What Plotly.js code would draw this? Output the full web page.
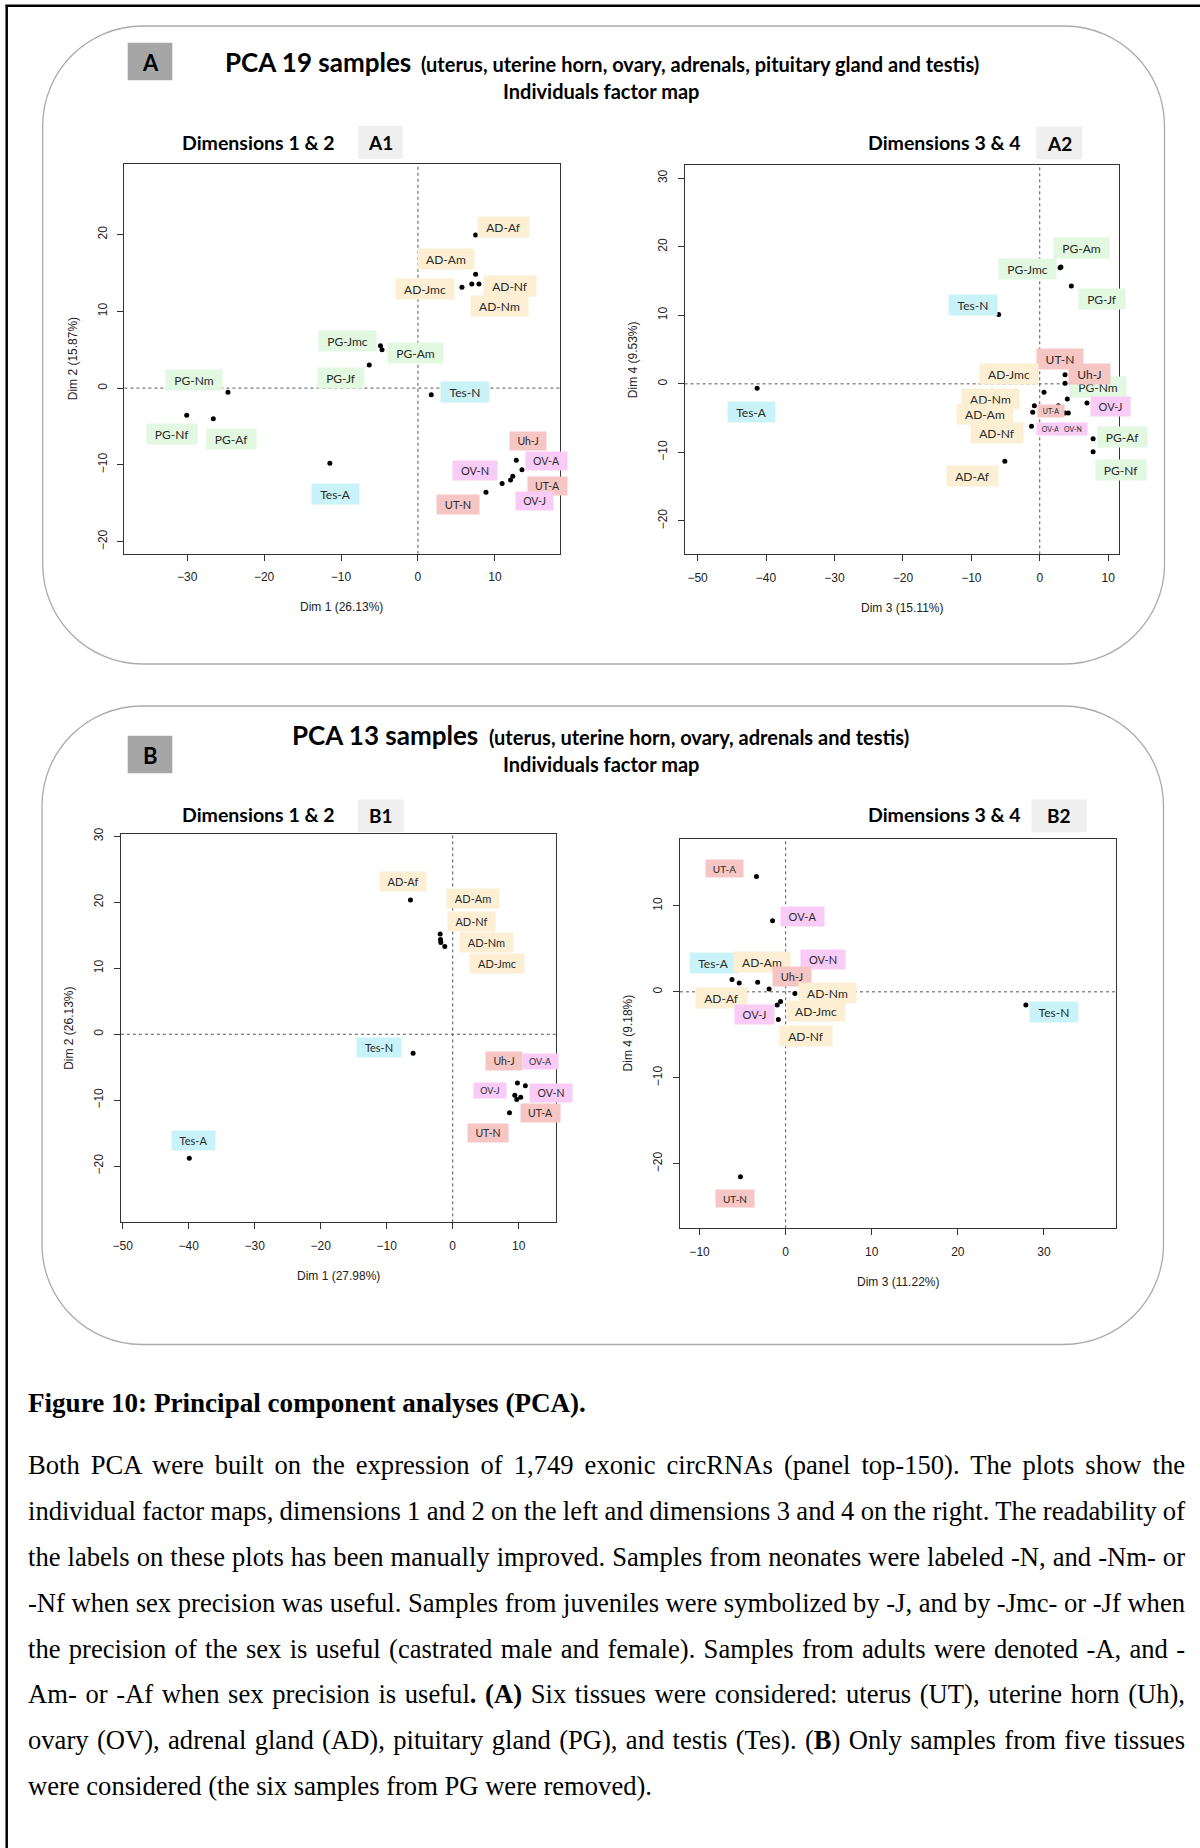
<!DOCTYPE html>
<html>
<head>
<meta charset="utf-8">
<script src="https://cdn.plot.ly/plotly-3.0.1.min.js"></script>
<style>
  body { margin: 0; background: #fff; }
  #wrap { position: relative; width: 1200px; height: 1848px; overflow: hidden; }
  #chart { position: absolute; left: 0; top: 0; width: 1200px; height: 1848px; }
  .cap { position: absolute; left: 28px; font-family: "Liberation Serif", "Times New Roman", serif;
         font-size: 26.6px; line-height: 30px; height: 30px; white-space: nowrap; color: #000; }
</style>
</head>
<body>
<div id="wrap">
  <div id="chart"></div>
</div>
<script>
// ================= DATA =================
// Panel A1 : Dim 1 vs Dim 2 (19 samples)
const A1_names = ['AD-Af','AD-Am','AD-Nf','AD-Nm','AD-Jmc','PG-Jmc','PG-Am','PG-Jf','PG-Nm','PG-Nf','PG-Af','Tes-N','Tes-A','Uh-J','OV-A','UT-A','OV-J','OV-N','UT-N'];
const A1_dim1  = [7.5, 7.5, 7.93, 7.0, 5.72, -4.87, -4.67, -6.33, -24.7, -30.06, -26.6, 1.73, -11.45, 12.78, 13.52, 12.33, 12.03, 10.94, 8.84];
const A1_dim2  = [19.94, 14.82, 13.56, 13.56, 13.12, 5.5, 5.0, 3.01, -0.55, -3.54, -3.99, -0.86, -9.78, -9.39, -10.63, -11.47, -11.98, -12.44, -13.56];

// Panel A2 : Dim 3 vs Dim 4 (19 samples)
const A2_names = ['Tes-A','Tes-N','PG-Jmc','PG-Am','PG-Jf','PG-Nm','UT-N','Uh-J','AD-Jmc','OV-J','AD-Nm','UT-A','AD-Am','OV-A','OV-N','AD-Nf','PG-Af','PG-Nf','AD-Af'];
const A2_dim3  = [-41.3, -6.0, 2.97, 3.1, 4.62, 6.9, 3.7, 3.7, 0.63, 4.03, -0.79, 2.72, -1.02, 3.7, 4.18, -1.2, 7.8, 7.8, -5.1];
const A2_dim4  = [-0.63, 10.1, 16.95, 17.05, 14.28, -2.8, 1.34, 0.08, -1.23, -2.21, -3.19, -3.19, -4.15, -4.25, -4.25, -6.2, -8.0, -9.9, -11.3];

// Panel B1 : Dim 1 vs Dim 2 (13 samples)
const B1_names = ['AD-Af','AD-Am','AD-Nf','AD-Nm','AD-Jmc','Tes-N','Tes-A','Uh-J','OV-A','OV-J','OV-N','UT-A','UT-N'];
const B1_dim1  = [-6.4, -1.9, -1.85, -1.8, -1.2, -6.0, -39.9, 9.8, 11.0, 9.4, 10.3, 9.7, 8.6];
const B1_dim2  = [20.35, 15.2, 14.35, 13.9, 13.3, -2.87, -18.8, -7.4, -7.8, -9.24, -9.55, -9.9, -11.9];

// Panel B2 : Dim 3 vs Dim 4 (13 samples)
const B2_names = ['UT-A','OV-A','OV-N','Tes-A','AD-Af','AD-Am','Uh-J','AD-Nm','AD-Jmc','OV-J','AD-Nf','Tes-N','UT-N'];
const B2_dim3  = [-3.39, -1.52, 0.22, -6.23, -5.39, -3.25, -1.92, 1.07, -0.59, -0.98, -0.85, 27.9, -5.25];
const B2_dim4  = [13.4, 8.27, 3.18, 1.42, 1.03, 1.12, 0.34, -0.2, -1.13, -1.52, -3.23, -1.52, -21.5];

// Tick labels
const A1_xticks = [-30, -20, -10, 0, 10];
const A1_yticks = [-20, -10, 0, 10, 20];
const A2_xticks = [-50, -40, -30, -20, -10, 0, 10];
const A2_yticks = [-20, -10, 0, 10, 20, 30];
const B1_xticks = [-50, -40, -30, -20, -10, 0, 10];
const B1_yticks = [-20, -10, 0, 10, 20, 30];
const B2_xticks = [-10, 0, 10, 20, 30];
const B2_yticks = [-20, -10, 0, 10];

// Text
const titleA = 'PCA 19 samples';
const subA = '(uterus, uterine horn, ovary, adrenals, pituitary gland and testis)';
const titleB = 'PCA 13 samples';
const subB = '(uterus, uterine horn, ovary, adrenals and testis)';
const subtitle2 = 'Individuals factor map';
const captionHead = 'Figure 10: Principal component analyses (PCA).';
const captionLines = [
  'Both PCA were built on the expression of 1,749 exonic circRNAs (panel top-150). The plots show the',
  'individual factor maps, dimensions 1 and 2 on the left and dimensions 3 and 4 on the right. The readability of',
  'the labels on these plots has been manually improved. Samples from neonates were labeled -N, and -Nm- or',
  '-Nf when sex precision was useful. Samples from juveniles were symbolized by -J, and by -Jmc- or -Jf when',
  'the precision of the sex is useful (castrated male and female). Samples from adults were denoted -A, and -',
  'Am- or -Af when sex precision is useful<b>. (A)</b> Six tissues were considered: uterus (UT), uterine horn (Uh),',
  'ovary (OV), adrenal gland (AD), pituitary gland (PG), and testis (Tes). (<b>B</b>) Only samples from five tissues',
  'were considered (the six samples from PG were removed).'
];

// ================= LABEL PLACEMENT (pixel offsets from the point) =================
const A1_lab = { dx:[28,-30,31,28,-37,-33,33,-28,-34,-15,18,34,6,12,25,35,24,-27,-28],
                 dy:[-8,-15,2,22,2,-5,3,13,-12,19,20,-3,31,-19,-9,10,21,-13,12],
                 size:[12,12,12,12,12,12,12,12,12,12,12,12,12,10.5,10.5,10.5,10.5,11,11] };
const A2_lab = { dx:[-6,-26,-33,21,31,11,-5,24,-35,43,-44,-7,-48,-15,5,-35,29,28,-32],
                 dy:[24,-10,1,-19,13,-16,-16,-9,-18,8,-7,5,2,16,16,7,-2,18,15],
                 size:[12,12,12,12,12,12,12,12,12,11,12,7,12,7,7,12,12,12,12] };
const B1_lab = { dx:[-7,33,31,46,52,-34,4,-13,15,-25,30,24,-21],
                 dy:[-19,-36,-18,0,17,-6,-18,-22,-24,-5,-4,13,20],
                 size:[11,11,11,11,11,11,11,10.5,9,9,10.5,10.5,10.5] };
const B2_lab = { dx:[-32,30,35,-19,-18,4,23,33,35,-23,28,28,-5],
                 dy:[-8,-4,-5,-17,15,-20,-12,-1,9,10,16,7,22],
                 size:[10,11,11,12,12,12,11,12,12,11,12,12,10] };

// ================= LAYOUT HELPERS =================
const W = 1200, H = 1848;
const px = x => x / W;
const py = y => 1 - y / H;

// plot boxes in pixels [left, top, right, bottom]
const boxes = {
  A1: [124.4, 163.9, 559.5, 553.8],
  A2: [684.6, 164.8, 1119.3, 554.3],
  B1: [120.9, 833.5, 555.7, 1222.4],
  B2: [680.0, 838.6, 1115.5, 1228.3]
};
const ranges = {
  A1: {x: [-38.16, 18.4], y: [-21.58, 29.2]},
  A2: {x: [-51.9, 11.63], y: [-24.87, 31.96]},
  B1: {x: [-50.26, 15.6], y: [-28.53, 30.44]},
  B2: {x: [-12.27, 38.31], y: [-27.5, 17.82]}
};

const tissueColors = { AD:'#FCEFD4', PG:'#E2F8E0', Tes:'#C9F3F8', UT:'#F6C6C5', Uh:'#F6C6C5', OV:'#F9CBF7' };
const tissueColor = n => tissueColors[n.split('-')[0]];

const cv = document.createElement('canvas').getContext('2d');
function textW(t, size) { cv.font = size + 'px Lato'; return cv.measureText(t).width; }

const axFont = {family: 'Liberation Sans, Arial, sans-serif', size: 12, color: '#222'};
const tickSets = {A1:[A1_xticks, A1_yticks], A2:[A2_xticks, A2_yticks], B1:[B1_xticks, B1_yticks], B2:[B2_xticks, B2_yticks]};

function makeAxes(key, idx) {
  const b = boxes[key], r = ranges[key];
  const xt = tickSets[key][0], yt = tickSets[key][1];
  const sfx = idx === 1 ? '' : String(idx);
  const common = {showgrid:false, zeroline:false, showline:true, mirror:true, linecolor:'#333', linewidth:1,
                  ticks:'outside', ticklen:6, tickcolor:'#333', tickwidth:1, tickfont:axFont,
                  ticklabelstandoff:6, fixedrange:true};
  const fmt = v => v < 0 ? '\u2212' + Math.abs(v) : String(v);
  return {
    ['xaxis' + sfx]: Object.assign({}, common, {domain:[px(b[0]), px(b[2])], range:r.x, tickvals:xt,
                      ticktext: xt.map(fmt), anchor:'y' + sfx}),
    ['yaxis' + sfx]: Object.assign({}, common, {domain:[py(b[3]), py(b[1])], range:r.y, tickvals:yt,
                      ticktext: yt.map(fmt), tickangle:-90, anchor:'x' + sfx})
  };
}

function labelAnns(names, xs, ys, lab, idx) {
  const sfx = idx === 1 ? '' : String(idx);
  return names.map((n, i) => {
    const s = lab.size[i];
    return {x: xs[i], y: ys[i], xref:'x' + sfx, yref:'y' + sfx, text: n, showarrow:false,
            xshift: lab.dx[i], yshift: -lab.dy[i], xanchor:'center', yanchor:'middle',
            bgcolor: tissueColor(n), borderpad:0,
            width: Math.round(textW(n, s) + 1.4 * s), height: Math.round(s * 1.7),
            font:{family:'Lato, sans-serif', size: s, color:'#2a2a2a'}};
  });
}

function zeroShapes(idx) {
  const sfx = idx === 1 ? '' : String(idx);
  const ln = {color:'#555', width:1, dash:'3px,3px'};
  return [
    {type:'line', xref:'x' + sfx, yref:'y' + sfx + ' domain', x0:0, x1:0, y0:0, y1:1, line:ln, layer:'below'},
    {type:'line', xref:'x' + sfx + ' domain', yref:'y' + sfx, x0:0, x1:1, y0:0, y1:0, line:ln, layer:'below'}
  ];
}

function roundRectPath(x0, y0, x1, y1, r) {
  const k = 0.5523 * r;
  const P = (x, y) => px(x).toFixed(5) + ',' + py(y).toFixed(5);
  return 'M' + P(x0 + r, y0) + ' L' + P(x1 - r, y0) +
    ' C' + P(x1 - r + k, y0) + ' ' + P(x1, y0 + r - k) + ' ' + P(x1, y0 + r) +
    ' L' + P(x1, y1 - r) +
    ' C' + P(x1, y1 - r + k) + ' ' + P(x1 - r + k, y1) + ' ' + P(x1 - r, y1) +
    ' L' + P(x0 + r, y1) +
    ' C' + P(x0 + r - k, y1) + ' ' + P(x0, y1 - r + k) + ' ' + P(x0, y1 - r) +
    ' L' + P(x0, y0 + r) +
    ' C' + P(x0, y0 + r - k) + ' ' + P(x0 + r - k, y0) + ' ' + P(x0 + r, y0) + ' Z';
}

function rectShape(x0, y0, x1, y1, fill) {
  return {type:'rect', xref:'paper', yref:'paper', x0:px(x0), x1:px(x1), y0:py(y1), y1:py(y0),
          fillcolor:fill, line:{width:0}, layer:'below'};
}

function textAnn(x, y, text, size, opts) {
  return Object.assign({xref:'paper', yref:'paper', x:px(x), y:py(y), text:text, showarrow:false,
    xanchor:'center', yanchor:'middle', font:{family:'Lato, sans-serif', size:size, color:'#000'}}, opts || {});
}

// ================= BUILD =================
const panels = [
  {key:'A1', idx:1, names:A1_names, xs:A1_dim1, ys:A1_dim2, lab:A1_lab, xl:'Dim 1 (26.13%)', yl:'Dim 2 (15.87%)'},
  {key:'A2', idx:2, names:A2_names, xs:A2_dim3, ys:A2_dim4, lab:A2_lab, xl:'Dim 3 (15.11%)', yl:'Dim 4 (9.53%)'},
  {key:'B1', idx:3, names:B1_names, xs:B1_dim1, ys:B1_dim2, lab:B1_lab, xl:'Dim 1 (27.98%)', yl:'Dim 2 (26.13%)'},
  {key:'B2', idx:4, names:B2_names, xs:B2_dim3, ys:B2_dim4, lab:B2_lab, xl:'Dim 3 (11.22%)', yl:'Dim 4 (9.18%)'}
];

const traces = [];
let layout = {width:W, height:H, margin:{l:0, r:0, t:0, b:0}, paper_bgcolor:'#fff', plot_bgcolor:'rgba(0,0,0,0)',
              showlegend:false, shapes:[], annotations:[]};

// outer page frame + rounded panels
layout.shapes.push({type:'line', xref:'paper', yref:'paper', x0:px(5.5), x1:1, y0:py(5.7), y1:py(5.7), line:{color:'#000', width:2.5}});
layout.shapes.push({type:'line', xref:'paper', yref:'paper', x0:px(6.7), x1:px(6.7), y0:py(5), y1:0, line:{color:'#000', width:2.5}});
layout.shapes.push({type:'path', xref:'paper', yref:'paper', path:roundRectPath(42.7, 26, 1164.5, 664, 100), line:{color:'#ababab', width:1.3}, layer:'below'});
layout.shapes.push({type:'path', xref:'paper', yref:'paper', path:roundRectPath(42.0, 706, 1163.5, 1344.5, 100), line:{color:'#ababab', width:1.3}, layer:'below'});

// panel letters and sub-panel tags
layout.shapes.push(rectShape(127.7, 42.7, 172.3, 80.3, '#A6A6A6'));
layout.shapes.push(rectShape(127.7, 735.7, 172.3, 773.3, '#A6A6A6'));
layout.shapes.push(rectShape(358.3, 126, 402.7, 158.7, '#EFEFEF'));
layout.shapes.push(rectShape(1036.3, 126.6, 1082.2, 159.6, '#EFEFEF'));
layout.shapes.push(rectShape(357.8, 799.4, 403.7, 832.3, '#EFEFEF'));
layout.shapes.push(rectShape(1031.7, 799.4, 1086.8, 832.3, '#EFEFEF'));

layout.annotations.push(textAnn(150, 62, '<b>A</b>', 22));
layout.annotations.push(textAnn(150, 755, '<b>B</b>', 22));
layout.annotations.push(textAnn(380.5, 143, '<b>A1</b>', 19));
layout.annotations.push(textAnn(1059.3, 143.5, '<b>A2</b>', 19));
layout.annotations.push(textAnn(380.7, 816, '<b>B1</b>', 19));
layout.annotations.push(textAnn(1059.3, 816, '<b>B2</b>', 19));

layout.annotations.push(textAnn(222.7, 62, '<b>' + titleA + '</b>', 26, {xanchor:'left'}));
layout.annotations.push(textAnn(419, 64.5, '<b>' + subA + '</b>', 20, {xanchor:'left'}));
layout.annotations.push(textAnn(601.3, 91.5, '<b>' + subtitle2 + '</b>', 20));
layout.annotations.push(textAnn(290, 735, '<b>' + titleB + '</b>', 26, {xanchor:'left'}));
layout.annotations.push(textAnn(487, 737.5, '<b>' + subB + '</b>', 20, {xanchor:'left'}));
layout.annotations.push(textAnn(601.3, 763.5, '<b>' + subtitle2 + '</b>', 20));

layout.annotations.push(textAnn(258.8, 142.7, '<b>Dimensions 1 &amp; 2</b>', 19.5));
layout.annotations.push(textAnn(944.4, 143, '<b>Dimensions 3 &amp; 4</b>', 19.5));
layout.annotations.push(textAnn(258.8, 814.2, '<b>Dimensions 1 &amp; 2</b>', 19.5));
layout.annotations.push(textAnn(944.4, 814.2, '<b>Dimensions 3 &amp; 4</b>', 19.5));

panels.forEach(p => {
  const sfx = p.idx === 1 ? '' : String(p.idx);
  traces.push({type:'scatter', mode:'markers', x:p.xs, y:p.ys, xaxis:'x' + sfx, yaxis:'y' + sfx,
               marker:{color:'#000', size:5}, hoverinfo:'text', text:p.names});
  Object.assign(layout, makeAxes(p.key, p.idx));
  layout.shapes.push(...zeroShapes(p.idx));
  layout.annotations.push(...labelAnns(p.names, p.xs, p.ys, p.lab, p.idx));
  const b = boxes[p.key];
  layout.annotations.push({xref:'paper', yref:'paper', x:px((b[0] + b[2]) / 2), y:py(b[3] + 53.5), text:p.xl,
    showarrow:false, xanchor:'center', yanchor:'middle', font:axFont});
  layout.annotations.push({xref:'paper', yref:'paper', x:px(b[0] - 52), y:py((b[1] + b[3]) / 2), text:p.yl,
    showarrow:false, xanchor:'center', yanchor:'middle', textangle:-90, font:axFont});
});

Plotly.newPlot('chart', traces, layout, {staticPlot:true, displayModeBar:false});

// ================= CAPTION (HTML text, justified) =================
const wrap = document.getElementById('wrap');
const head = document.createElement('div');
head.className = 'cap';
head.style.top = (1402.8 - 15) + 'px';
head.style.fontWeight = 'bold';
head.style.fontSize = '27.1px';
head.textContent = captionHead;
wrap.appendChild(head);

const targetW = 1157;
captionLines.forEach((ln, i) => {
  const d = document.createElement('div');
  d.className = 'cap';
  d.style.top = (1465.3 + 45.8 * i - 15) + 'px';
  d.innerHTML = ln;
  wrap.appendChild(d);
  if (i < captionLines.length - 1) {
    const natural = d.getBoundingClientRect().width;
    const spaces = (d.textContent.match(/ /g) || []).length;
    if (spaces > 0) d.style.wordSpacing = ((targetW - natural) / spaces) + 'px';
  }
});
</script>
</body>
</html>
